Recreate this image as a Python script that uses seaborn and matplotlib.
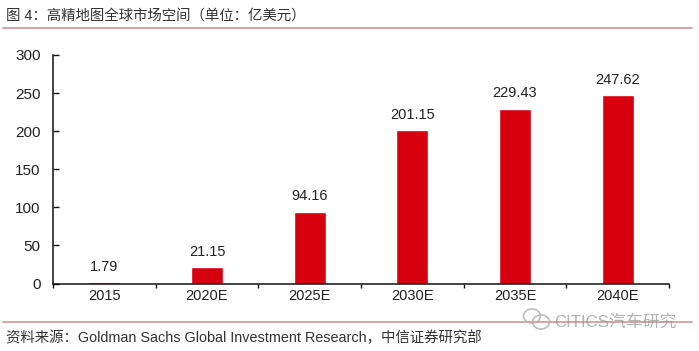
import pandas as pd
import seaborn as sns
import matplotlib.pyplot as plt
from matplotlib.lines import Line2D
from matplotlib.patches import Ellipse

years = ['2015', '2020E', '2025E', '2030E', '2035E', '2040E']
market = [1.79, 21.15, 94.16, 201.15, 229.43, 247.62]
y_ticks = [0, 50, 100, 150, 200, 250, 300]
title = '图 4：高精地图全球市场空间（单位：亿美元）'
source = '资料来源：Goldman Sachs Global Investment Research，中信证券研究部'
watermark = 'CITICS汽车研究'

sns.set_theme(style='white')
plt.rcParams['font.family'] = ['Liberation Sans', 'Noto Sans CJK SC', 'DejaVu Sans']

W, H = 699, 351
fig = plt.figure(figsize=(W / 100, H / 100), dpi=100, facecolor='white')
ax = fig.add_axes([53 / W, 1 - 283.5 / H, (669 - 53) / W, (283.5 - 55) / H])

data = pd.DataFrame({'year': years, 'market': market})
sns.barplot(data=data, x='year', y='market', color='#d7000f', saturation=1, width=0.31, ax=ax)

ax.set_xlim(-0.5, 5.5)
ax.set_ylim(0, 300)
ax.set_yticks(y_ticks)
ax.set_xlabel('')
ax.set_ylabel('')
sns.despine(ax=ax)
for side in ['left', 'bottom']:
    ax.spines[side].set_linewidth(1.1)
    ax.spines[side].set_color('#111111')

# x ticks sit between the bars
ax.set_xticks([i - 0.5 for i in range(7)], minor=True)
ax.tick_params(axis='x', which='minor', bottom=True, direction='out', length=3, width=1, color='#111111')
ax.tick_params(axis='x', which='major', bottom=False, labelsize=10.5, pad=-2, labelcolor='#222222')
ax.tick_params(axis='y', left=True, direction='in', length=4, width=1, color='#111111',
               labelsize=11, pad=9, labelcolor='#222222')

for i, v in enumerate(market):
    ax.annotate(f'{v:.2f}', (i, v), xytext=(0, 6), textcoords='offset points', ha='center', va='bottom',
                fontsize=10.5, color='#222222')

fig.text(6 / W, 1 - 17 / H, title, fontsize=10.4, color='#333333', va='center', ha='left')
fig.text(6 / W, 1 - 338 / H, source, fontsize=10.4, color='#333333', va='center', ha='left')
for y in [28, 322]:
    fig.add_artist(Line2D([3 / W, 692 / W], [1 - y / H, 1 - y / H], color='#d9a3a3', lw=1.4))

# watermark with the little chat icon
for cx, cy, w, h in [(532, 316, 17, 14), (541, 322, 17, 14)]:
    fig.add_artist(Ellipse((cx / W, 1 - cy / H), w / W, h / H, transform=fig.transFigure,
                           fill=False, edgecolor='#bdbdbd', lw=1.2))
fig.text(554 / W, 1 - 322 / H, watermark, fontsize=12.2, color='#9a9a9a', alpha=0.75, va='center', ha='left')

fig.savefig('out.png', dpi=100)
